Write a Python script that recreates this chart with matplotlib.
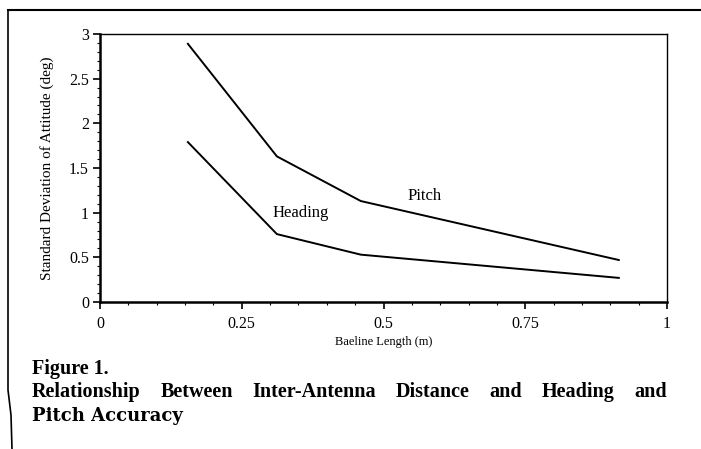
import numpy as np
import matplotlib
matplotlib.use("Agg")
import matplotlib.pyplot as plt
from matplotlib.lines import Line2D
from matplotlib.ticker import MultipleLocator

# Data
baseline = [0.155, 0.312, 0.460, 0.915]
pitch = [2.89, 1.63, 1.13, 0.47]
heading = [1.79, 0.76, 0.53, 0.27]

x_ticks = [0, 0.25, 0.5, 0.75, 1]
x_tick_labels = ["0", "0.25", "0.5", "0.75", "1"]
y_ticks = [0, 0.5, 1, 1.5, 2, 2.5, 3]
y_tick_labels = ["0", "0.5", "1", "1.5", "2", "2.5", "3"]

plt.rcParams['font.family'] = ['Liberation Serif', 'DejaVu Serif']

fig = plt.figure(figsize=(7.01, 4.49), dpi=100)
ax = fig.add_axes([100 / 701, 1 - 302 / 449, 567 / 701, 268 / 449])

ax.plot(baseline, pitch, color='black', lw=1.4)
ax.plot(baseline, heading, color='black', lw=1.4)

ax.text(0.543, 1.19, "Pitch", fontsize=12, va='center', ha='left')
ax.text(0.305, 1.0, "Heading", fontsize=12, va='center', ha='left')

ax.set_xlim(0, 1)
ax.set_ylim(0, 3)
ax.set_xticks(x_ticks)
ax.set_xticklabels(x_tick_labels)
ax.set_yticks(y_ticks)
ax.set_yticklabels(y_tick_labels)
ax.xaxis.set_minor_locator(MultipleLocator(0.05))
ax.yaxis.set_minor_locator(MultipleLocator(0.1))
ax.tick_params(which='major', direction='out', length=5, width=1.2, labelsize=11.5)
ax.tick_params(axis='y', which='major', pad=3)
ax.tick_params(axis='x', which='major', pad=5)
ax.tick_params(which='minor', direction='out', length=2, width=0.8)

for side in ['left', 'bottom']:
    ax.spines[side].set_linewidth(1.8)
for side in ['top', 'right']:
    ax.spines[side].set_linewidth(1.0)

ax.set_xlabel("Baeline Length (m)", fontsize=9, labelpad=3)
ax.set_ylabel("Standard Deviation of Attitude (deg)", fontsize=11, labelpad=11)

# Outer frame of the scanned page
fig.add_artist(Line2D([8 / 701, 1], [1 - 10 / 449, 1 - 10 / 449], color='black', lw=1.5,
                      transform=fig.transFigure))
fig.add_artist(Line2D([8 / 701, 8 / 701, 11 / 701, 12 / 701],
                      [1 - 10 / 449, 1 - 390 / 449, 1 - 415 / 449, 0],
                      color='black', lw=1.2, transform=fig.transFigure))

# Caption
fig.text(32 / 701, 1 - 369 / 449, "Figure 1.", fontsize=14.5, fontweight='bold',
         va='center', ha='left')

words = "Relationship Between Inter-Antenna Distance and Heading and".split()
x0, x1 = 32, 667
y_line = 1 - 392 / 449
renderer = fig.canvas.get_renderer()
texts = [fig.text(0, y_line, w, fontsize=14.5, fontweight='bold', va='center', ha='left')
         for w in words]
widths = [t.get_window_extent(renderer).width for t in texts]
gap = (x1 - x0 - sum(widths)) / (len(words) - 1)
pos = x0
for t, w in zip(texts, widths):
    t.set_x(pos / 701)
    pos += w + gap

fig.text(32 / 701, 1 - 416 / 449, "Pitch Accuracy", fontsize=13, fontweight='bold',
         family=['DejaVu Serif'], va='center', ha='left')

fig.savefig("out.png", dpi=100)
